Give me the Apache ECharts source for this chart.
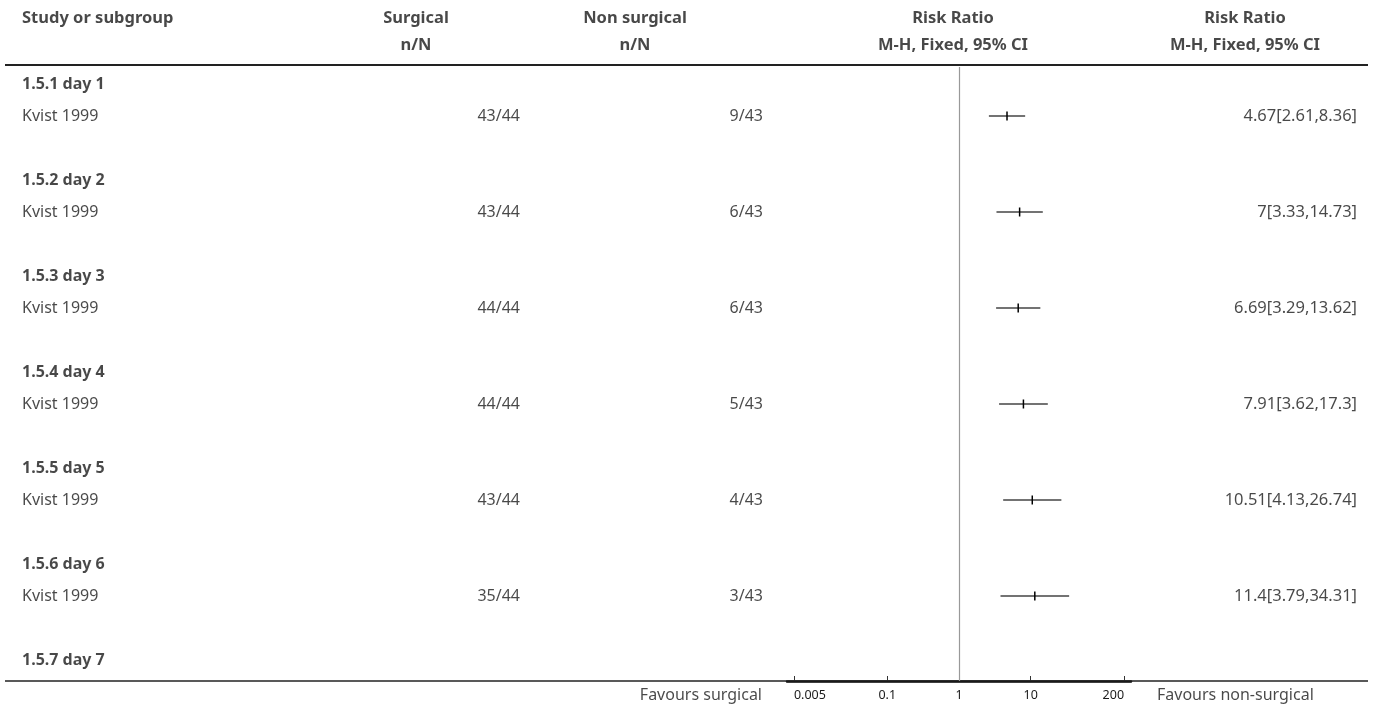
<!DOCTYPE html>
<html>
<head>
<meta charset="utf-8">
<script src="https://cdn.jsdelivr.net/npm/echarts@6/dist/echarts.min.js"></script>
<style>
html,body{margin:0;padding:0;background:#fff;}
#c{width:1375px;height:711px;}
</style>
</head>
<body>
<div id="c"></div>
<script>
// ---- data ----
const groups = ['1.5.1 day 1','1.5.2 day 2','1.5.3 day 3','1.5.4 day 4','1.5.5 day 5','1.5.6 day 6','1.5.7 day 7'];
const studies = ['Kvist 1999','Kvist 1999','Kvist 1999','Kvist 1999','Kvist 1999','Kvist 1999'];
const surgical = ['43/44','43/44','44/44','44/44','43/44','35/44'];
const nonSurgical = ['9/43','6/43','6/43','5/43','4/43','3/43'];
const rr = [4.67, 7, 6.69, 7.91, 10.51, 11.4];
const ciLow = [2.61, 3.33, 3.29, 3.62, 4.13, 3.79];
const ciHigh = [8.36, 14.73, 13.62, 17.3, 26.74, 34.31];
const tickValues = [0.005, 0.1, 1, 10, 200];
const headers1 = ['Study or subgroup','Surgical','Non surgical','Risk Ratio','Risk Ratio'];
const headers2 = ['','n/N','n/N','M-H, Fixed, 95% CI','M-H, Fixed, 95% CI'];
const favours = ['Favours surgical','Favours non-surgical'];

// ---- layout ----
const FONT = '"Noto Sans"';
const SZ = {head:16.5, group:16, study:16, count:16, value:16.5, fav:16, tick:12.5};
const col = {study:22, surg:520, non:763, rrHead:953, rrText:1357, rrHead2:1245, surgHead:416, nonHead:635};
const rowOf = g => 3*g;          // group title row
const studyRow = i => 3*i + 1;   // study row
const hdr1Row = -2.06, hdr2Row = -1.22, hdrLineRow = -0.59, favRow = 19.12;
const Y0MAX = 19.59375, Y1MAX = 18.65625, YMIN = -2.625;

function txt(x, r, text, align, bold, size){
  return {value:[x, r], label:{show:true, position:'inside', formatter:text, align:align,
    verticalAlign:'middle', color:'#1a1a1a', fontFamily:FONT, fontSize:size, fontWeight:bold?'bold':'normal'}};
}
const textData = [];
textData.push(txt(col.study, hdr1Row, headers1[0], 'left', true, SZ.head));
textData.push(txt(col.surgHead, hdr1Row, headers1[1], 'center', true, SZ.head));
textData.push(txt(col.nonHead, hdr1Row, headers1[2], 'center', true, SZ.head));
textData.push(txt(col.rrHead, hdr1Row, headers1[3], 'center', true, SZ.head));
textData.push(txt(col.rrHead2, hdr1Row, headers1[4], 'center', true, SZ.head));
textData.push(txt(col.surgHead, hdr2Row, headers2[1], 'center', true, SZ.head));
textData.push(txt(col.nonHead, hdr2Row, headers2[2], 'center', true, SZ.head));
textData.push(txt(col.rrHead, hdr2Row, headers2[3], 'center', true, SZ.head));
textData.push(txt(col.rrHead2, hdr2Row, headers2[4], 'center', true, SZ.head));
groups.forEach((g,i)=> textData.push(txt(col.study, rowOf(i), g, 'left', true, SZ.group)));
studies.forEach((s,i)=>{
  textData.push(txt(col.study, studyRow(i), s, 'left', false, SZ.study));
  textData.push(txt(col.surg, studyRow(i), surgical[i], 'right', false, SZ.count));
  textData.push(txt(col.non, studyRow(i), nonSurgical[i], 'right', false, SZ.count));
  textData.push(txt(col.rrText, studyRow(i), rr[i] + '[' + ciLow[i] + ',' + ciHigh[i] + ']', 'right', false, SZ.value));
});
textData.push(txt(762, favRow, favours[0], 'right', false, SZ.fav));
textData.push(txt(1157, favRow, favours[1], 'left', false, SZ.fav));

const forestData = rr.map((v,i)=>[ciLow[i], ciHigh[i], v, studyRow(i)]);

const chart = echarts.init(document.getElementById('c'), null, {renderer:'canvas'});
chart.setOption({
  animation:false,
  grid:[
    {left:0, top:0, width:1375, height:711},
    {left:787, top:0, width:344, height:681}
  ],
  xAxis:[
    {type:'value', gridIndex:0, min:0, max:1375, show:false},
    {type:'log', gridIndex:1, min:0.004, max:250, logBase:10,
      axisLine:{show:true, onZero:false, lineStyle:{color:'#000', width:2.5}},
      axisTick:{show:true, inside:true, length:5, customValues:tickValues, lineStyle:{color:'#333', width:1}},
      axisLabel:{show:true, customValues:tickValues, margin:8, color:'#1a1a1a', fontFamily:FONT, fontSize:SZ.tick,
        alignMinLabel:'left', alignMaxLabel:'right',
        formatter:v=>String(Number(Number(v).toPrecision(3)))},
      splitLine:{show:false}, minorTick:{show:false}}
  ],
  yAxis:[
    {type:'value', gridIndex:0, min:YMIN, max:Y0MAX, inverse:true, show:false},
    {type:'value', gridIndex:1, min:YMIN, max:Y1MAX, inverse:true, show:false}
  ],
  series:[
    {type:'scatter', xAxisIndex:0, yAxisIndex:0, symbolSize:0, clip:false, silent:true,
      data:textData,
      markLine:{silent:true, symbol:'none', label:{show:false},
        data:[
          [{coord:[5, hdrLineRow], lineStyle:{color:'#222', width:1.8, type:'solid'}}, {coord:[1368, hdrLineRow]}],
          [{coord:[5, Y1MAX], lineStyle:{color:'#222', width:1.5, type:'solid'}}, {coord:[1368, Y1MAX]}]
        ]}
    },
    {type:'custom', xAxisIndex:1, yAxisIndex:1, clip:false, silent:true,
      encode:{x:[0,1,2], y:3},
      data:forestData,
      renderItem:function(params, api){
        const r = api.value(3);
        const a = api.coord([api.value(0), r]);
        const b = api.coord([api.value(1), r]);
        const p = api.coord([api.value(2), r]);
        return {type:'group', children:[
          {type:'line', shape:{x1:a[0], y1:a[1], x2:b[0], y2:b[1]}, style:{stroke:'#444', lineWidth:1.5}},
          {type:'line', shape:{x1:p[0], y1:p[1]-4.5, x2:p[0], y2:p[1]+4.5}, style:{stroke:'#000', lineWidth:1.5}}
        ]};
      },
      markLine:{silent:true, symbol:'none', label:{show:false},
        data:[[{coord:[1, -0.53], lineStyle:{color:'#999', width:1.2, type:'solid'}}, {coord:[1, Y1MAX]}]]}
    }
  ]
});
</script>
</body>
</html>
